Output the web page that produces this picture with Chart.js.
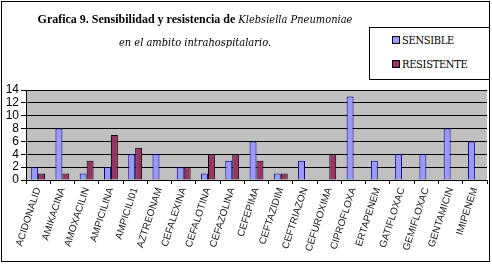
<!DOCTYPE html>
<html>
<head>
<meta charset="utf-8">
<script src="https://cdn.jsdelivr.net/npm/chart.js@4/dist/chart.umd.min.js"></script>
<style>
  body { margin: 0; background: #fff; }
  #wrap { position: relative; width: 492px; height: 267px; }
  #frame { position: absolute; left: 1px; top: 1px; width: 487px; height: 259px; border: 1px solid #000; pointer-events: none; }
  #title { position: absolute; left: 25px; top: 8px; width: 340px; text-align: center; font-family: "Liberation Serif", serif; font-size: 12px; line-height: 23px; color: #000; }
  #title b { font-weight: bold; }
  #title i { font-style: italic; font-family: "DejaVu Serif Condensed", "DejaVu Serif", serif; font-size: 11px; }
  #legend { position: absolute; left: 369px; top: 27px; width: 119px; height: 51px; border: 1px solid #000; background: #fff;
            font-family: "DejaVu Serif Condensed", "DejaVu Serif", serif; font-size: 11px; letter-spacing: -0.3px; }
  .item { position: absolute; left: 22px; line-height: 12px; }
  .item span.box { display: inline-block; width: 6px; height: 6px; border: 1px solid #000; margin-right: 2px; vertical-align: 0px; }
</style>
</head>
<body>
<div id="wrap">
  <canvas id="chart" width="492" height="267"></canvas>
  <div id="title"><b>Grafica 9. Sensibilidad y resistencia de</b> <i>Klebsiella Pneumoniae</i><br><i>en el ambito intrahospitalario.</i></div>
  <div id="legend"></div>
  <div id="frame"></div>
</div>
<script>
// Sensibilidad y resistencia de Klebsiella Pneumoniae

const categories = ['ACIDONALID', 'AMIKACINA', 'AMOXACILIN', 'AMPICILINA', 'AMPICILI01', 'AZTREONAM',
    'CEFALEXINA', 'CEFALOTINA', 'CEFAZOLINA', 'CEFEPIMA', 'CEFTAZIDIM', 'CEFTRIAZON', 'CEFUROXIMA',
    'CIPROFLOXA', 'ERTAPENEM', 'GATIFLOXAC', 'GEMIFLOXAC', 'GENTAMICIN', 'IMIPENEM'];
const sensible   = [2, 8, 1, 2, 4, 4, 2, 1, 3, 6, 1, 3, 0, 13, 3, 4, 4, 8, 6];
const resistente = [1, 1, 3, 7, 5, 0, 2, 4, 4, 3, 1, 0, 4, 0, 0, 0, 0, 0, 0];
const seriesNames = ['SENSIBLE', 'RESISTENTE'];
const yTicks = [0, 2, 4, 6, 8, 10, 12, 14];

const colors = ['#9999FF', '#993366'];
const borders = ['#000080', '#000000'];

// fondo gris del area de trazado
const plotBg = {
    id: 'plotBg',
    beforeDraw(chart) {
        const a = chart.chartArea;
        const c = chart.ctx;
        c.save();
        c.fillStyle = '#C0C0C0';
        c.fillRect(a.left, a.top, a.right - a.left, a.bottom - a.top);
        c.restore();
    }
};

const ctx = document.getElementById('chart').getContext('2d');
const myChart = new Chart(ctx, {
    type: 'bar',
    data: {
        labels: categories,
        datasets: [sensible, resistente].map((d, i) => ({
            label: seriesNames[i],
            data: d,
            backgroundColor: colors[i],
            borderColor: borders[i],
            borderWidth: 1,
            categoryPercentage: 0.571,
            barPercentage: 1
        }))
    },
    options: {
        responsive: false,
        animation: false,
        layout: { padding: { top: 90, right: 5, left: 2, bottom: 6 } },
        plugins: { legend: { display: false }, tooltip: { enabled: false } },
        scales: {
            y: {
                min: 0, max: 14,
                afterBuildTicks: s => { s.ticks = yTicks.map(v => ({ value: v })); },
                afterFit: s => { s.width = 24; },
                ticks: { color: '#000', font: { family: 'Arial', size: 12 }, padding: 2, autoSkip: false },
                grid: { color: '#000', tickLength: 5, tickColor: '#000' },
                border: { color: '#000' }
            },
            x: {
                afterFit: s => { s.height = 81; },
                ticks: { color: '#222', font: { family: 'Arial', size: 10 }, maxRotation: 72, minRotation: 72, padding: 2, autoSkip: false },
                grid: { offset: true, drawOnChartArea: false, tickLength: 4, tickColor: '#000' },
                border: { color: '#000' }
            }
        }
    },
    plugins: [plotBg]
});

// leyenda
const legend = document.getElementById('legend');
seriesNames.forEach((name, i) => {
    const el = document.createElement('div');
    el.className = 'item';
    el.style.top = (i === 0 ? 7 : 31) + 'px';
    el.innerHTML = `<span class="box" style="background:${colors[i]}"></span>${name}`;
    legend.appendChild(el);
});
</script>
</body>
</html>
